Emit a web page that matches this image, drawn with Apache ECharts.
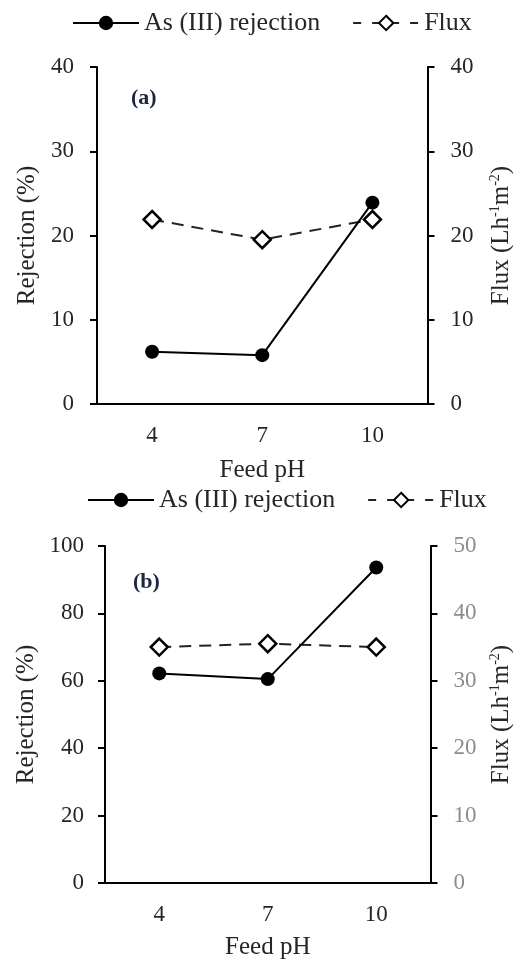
<!DOCTYPE html>
<html>
<head>
<meta charset="utf-8">
<script src="https://cdn.jsdelivr.net/npm/echarts@6/dist/echarts.min.js"></script>
<style>
  html, body { margin: 0; padding: 0; background: #fff; }
  #chart { width: 522px; height: 961px; }
</style>
</head>
<body>
<div id="chart"></div>
<script>
// feed pH categories
const phLabels = ['4', '7', '10'];

// panel (a)
const rejectionA = [6.2, 5.8, 23.9];
const fluxA = [21.9, 19.5, 21.9];

// panel (b)
const rejectionB = [62.2, 60.5, 93.6];
const fluxB = [35.0, 35.5, 35.0];

const serif = "'Liberation Serif', 'Times New Roman', serif";
const ink = '#262626';

let myChart = echarts.init(document.getElementById('chart'));

function yAxis(gridIndex, pos, max, interval, labelColor, name, gap, margin) {
    return {
        type: 'value',
        gridIndex: gridIndex,
        position: pos,
        min: 0,
        max: max,
        interval: interval,
        splitLine: { show: false },
        axisLine: { show: true, lineStyle: { color: '#000', width: 2 } },
        axisTick: { show: true, length: 7, lineStyle: { color: '#000', width: 2 } },
        axisLabel: { color: labelColor, fontFamily: serif, fontSize: 23, margin: margin },
        name: name,
        nameLocation: 'middle',
        nameRotate: 90,
        nameGap: gap,
        nameTextStyle: {
            color: ink, fontFamily: serif, fontSize: 25,
            rich: {
                t: { fontFamily: serif, fontSize: 25, color: ink },
                s: { fontFamily: serif, fontSize: 14, color: ink, verticalAlign: 'top', padding: [0, 0, 12, 0] }
            }
        }
    };
}

function xAxis(gridIndex, gap) {
    return {
        type: 'category',
        gridIndex: gridIndex,
        data: phLabels,
        boundaryGap: true,
        axisLine: { lineStyle: { color: '#000', width: 2 } },
        axisTick: { length: 7, lineStyle: { color: '#000', width: 2 } },
        axisLabel: { color: ink, fontFamily: serif, fontSize: 23, margin: 20 },
        name: 'Feed pH',
        nameLocation: 'middle',
        nameGap: gap,
        nameTextStyle: { color: ink, fontFamily: serif, fontSize: 25 }
    };
}

const fluxName = '{t|Flux (Lh}{s|-1}{t|m}{s|-2}{t|)}';

function rejSeries(x, y, data) {
    return {
        name: 'As (III) rejection',
        type: 'line',
        xAxisIndex: x,
        yAxisIndex: y,
        symbol: 'circle',
        symbolSize: 14,
        itemStyle: { color: '#000' },
        lineStyle: { color: '#000', width: 2 },
        data: data,
        z: 3
    };
}

function fluxSeries(x, y, data) {
    return {
        name: 'Flux',
        type: 'line',
        xAxisIndex: x,
        yAxisIndex: y,
        symbol: 'diamond',
        symbolSize: [17, 17],
        itemStyle: { color: '#fff', borderColor: '#000', borderWidth: 2.5 },
        lineStyle: { color: '#222', width: 2, type: [12, 8] },
        data: data,
        z: 2
    };
}

const legendBase = {
    itemWidth: 66,
    itemHeight: 18,
    itemGap: 32,
    textStyle: { color: ink, fontFamily: serif, fontSize: 26 },
    data: [
        { name: 'As (III) rejection' },
        { name: 'Flux', lineStyle: { type: [8, 11] } }
    ]
};

myChart.setOption({
    animation: false,
    backgroundColor: '#fff',
    legend: [
        Object.assign({ left: 67, top: 5 }, legendBase),
        Object.assign({ left: 82, top: 482 }, legendBase)
    ],
    title: [
        { text: '(a)', left: 126, top: 82, textStyle: { color: '#1d2540', fontFamily: serif, fontSize: 22, fontWeight: 'bold' } },
        { text: '(b)', left: 128, top: 566, textStyle: { color: '#1d2540', fontFamily: serif, fontSize: 22, fontWeight: 'bold' } }
    ],
    grid: [
        { left: 97, right: 92, top: 67, height: 337 },
        { left: 105, right: 86, top: 546, height: 339 }
    ],
    xAxis: [xAxis(0, 54), xAxis(1, 52)],
    yAxis: [
        yAxis(0, 'left', 40, 10, ink, 'Rejection (%)', 56, 23),
        yAxis(0, 'right', 40, 10, ink, fluxName, 61, 23),
        yAxis(1, 'left', 100, 20, ink, 'Rejection (%)', 60, 21),
        yAxis(1, 'right', 50, 10, '#8c8c8c', fluxName, 58, 23)
    ],
    series: [
        rejSeries(0, 0, rejectionA),
        fluxSeries(0, 1, fluxA),
        rejSeries(1, 2, rejectionB),
        fluxSeries(1, 3, fluxB)
    ]
});
</script>
</body>
</html>
